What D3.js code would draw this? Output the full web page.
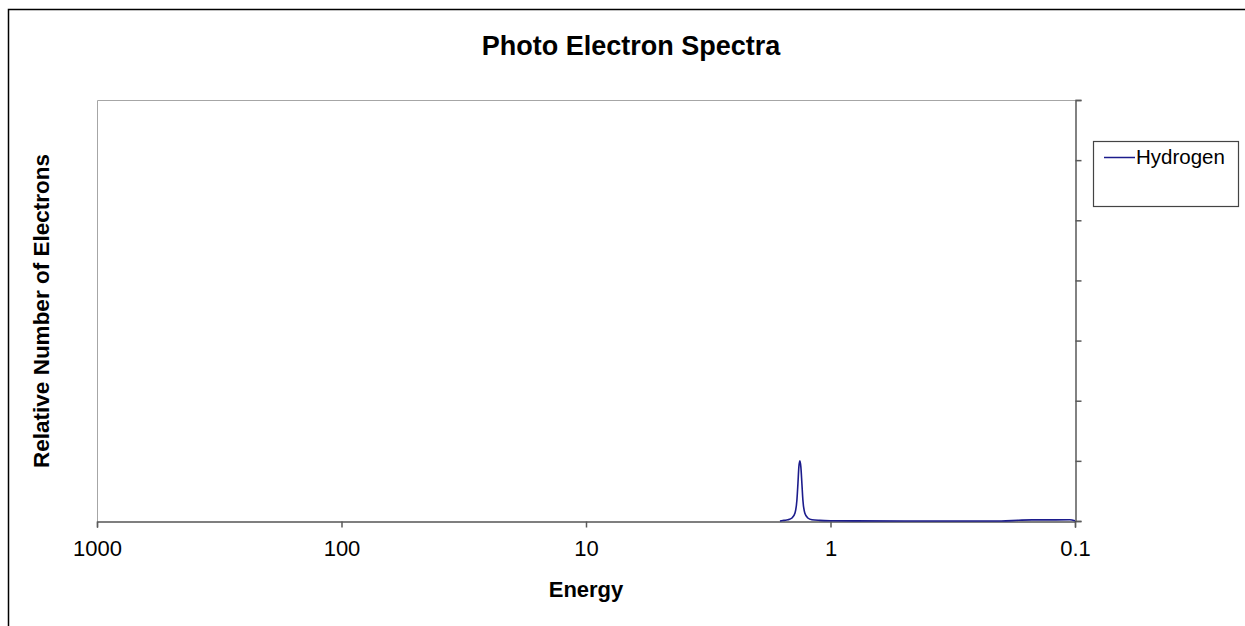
<!DOCTYPE html>
<html>
<head>
<meta charset="utf-8">
<script src="https://cdn.jsdelivr.net/npm/d3@7"></script>
<style>
  body { margin: 0; background: #fff; }
  text { font-family: "Liberation Sans", Arial, sans-serif; }
</style>
</head>
<body>
<svg id="chart" width="1245" height="626"></svg>
<script>
// Series values (energy in eV, relative count)
const energy = [1.61, 1.55, 1.494, 1.438, 1.398, 1.372, 1.359, 1.347, 1.334, 1.322, 1.309, 1.297, 1.273, 1.238, 1.191, 1.105,
                1.0, 0.8, 0.5, 0.3, 0.2, 0.17, 0.15, 0.12, 0.105, 0.1];
const hydrogen = [0.0, 0.001, 0.002, 0.005, 0.013, 0.035, 0.062, 0.09, 0.1, 0.09, 0.062, 0.035, 0.013, 0.005, 0.002, 0.001,
                  0.0005, 0.0002, 0.0, 0.0, 0.0, 0.0012, 0.0018, 0.0018, 0.002, 0.0005];
const xTicks = [1000, 100, 10, 1, 0.1];
const xTickLabels = ["1000", "100", "10", "1", "0.1"];
const yTicks = [0, 0.1, 0.2, 0.3, 0.4, 0.5, 0.6, 0.7];
const seriesName = "Hydrogen";

const svg = d3.select("#chart");
const plotLeft = 97, plotRight = 1075, plotTop = 100, plotBottom = 521;

// outer chart frame (only left/top edges visible)
svg.append("path")
    .attr("d", "M8.5,640 V9.5 H1260")
    .attr("fill", "none")
    .attr("stroke", "#000")
    .attr("stroke-width", 1.5);

const x = d3.scaleLog().domain([1000, 0.1]).range([plotLeft, plotRight]);
const y = d3.scaleLinear().domain([0, 0.7]).range([plotBottom, plotTop]);

// plot area border left/top
svg.append("path")
    .attr("d", `M${plotLeft + 0.5},${plotBottom} V${plotTop + 0.5} H${plotRight}`)
    .attr("fill", "none")
    .attr("stroke", "#a6a6a6")
    .attr("stroke-width", 1);

// right axis
const yAxis = svg.append("g")
    .attr("transform", `translate(${plotRight + 0.5},0)`)
    .call(d3.axisRight(y).tickValues(yTicks).tickSize(6).tickFormat(""));
yAxis.select(".domain").attr("stroke", "#5a5a5a").attr("stroke-width", 1.5);
yAxis.selectAll(".tick line").attr("stroke", "#5a5a5a").attr("stroke-width", 1.5);

// bottom axis
const xAxis = svg.append("g")
    .attr("transform", `translate(0,${plotBottom + 0.5})`)
    .call(d3.axisBottom(x).tickValues(xTicks).tickSize(6).tickPadding(13)
        .tickFormat((d, i) => xTickLabels[i]));
xAxis.select(".domain").attr("stroke", "#000").attr("stroke-width", 1.2);
xAxis.selectAll(".tick line").attr("stroke", "#5a5a5a").attr("stroke-width", 1.5);
xAxis.selectAll(".tick text")
    .attr("fill", "#000")
    .style("font-size", "22px")
    .style("font-family", "Liberation Sans, Arial, sans-serif");

// series line
const pts = energy.map((e, i) => [e, hydrogen[i]]);
svg.append("path")
    .datum(pts)
    .attr("fill", "none")
    .attr("stroke", "#1c1c8c")
    .attr("stroke-width", 1.6)
    .attr("d", d3.line().x(d => x(d[0])).y(d => y(d[1])).curve(d3.curveMonotoneX));

// titles
svg.append("text")
    .attr("x", 631).attr("y", 55)
    .attr("text-anchor", "middle")
    .style("font-size", "27px").style("font-weight", "bold")
    .text("Photo Electron Spectra");

svg.append("text")
    .attr("x", 586).attr("y", 597)
    .attr("text-anchor", "middle")
    .style("font-size", "22px").style("font-weight", "bold")
    .text("Energy");

svg.append("text")
    .attr("transform", "translate(49,311) rotate(-90)")
    .attr("text-anchor", "middle")
    .style("font-size", "22.5px").style("font-weight", "bold")
    .text("Relative Number of Electrons");

// legend
const legend = svg.append("g");
legend.append("rect")
    .attr("x", 1093.5).attr("y", 141.5)
    .attr("width", 145).attr("height", 65)
    .attr("fill", "#fff")
    .attr("stroke", "#444")
    .attr("stroke-width", 1.2);
legend.append("line")
    .attr("x1", 1104).attr("x2", 1135)
    .attr("y1", 157.5).attr("y2", 157.5)
    .attr("stroke", "#1c1c8c")
    .attr("stroke-width", 1.5);
legend.append("text")
    .attr("x", 1136).attr("y", 164)
    .style("font-size", "20.5px")
    .text(seriesName);
</script>
</body>
</html>
